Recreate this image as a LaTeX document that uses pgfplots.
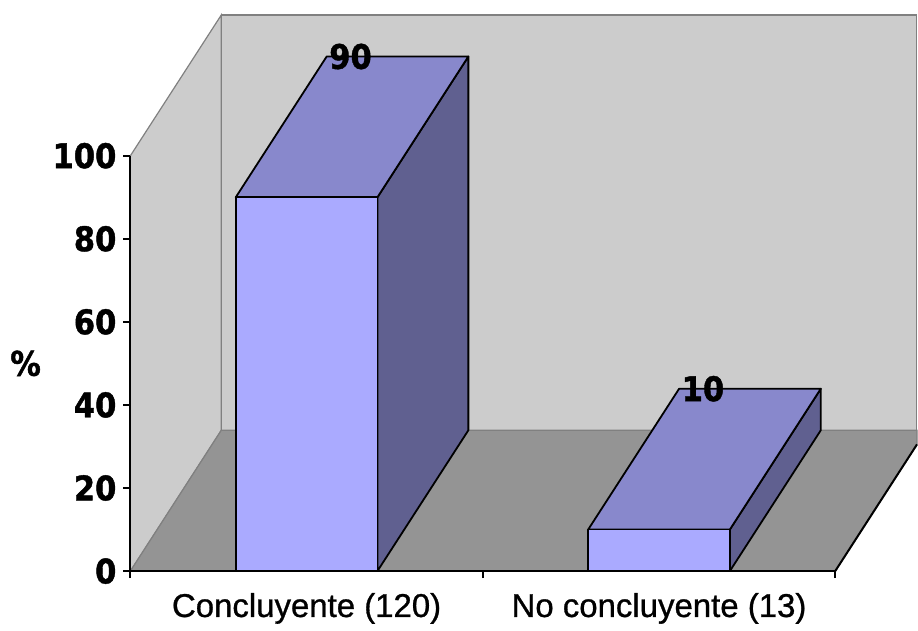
\documentclass[border=0pt]{standalone}
\usepackage{pgfplots}
\pgfplotsset{compat=1.18}
\usepackage{fontspec}
\setmainfont{Liberation Sans}
\newfontfamily\catfont{Liberation Sans}[FakeBold=0.9]
\newfontfamily\numfont{DejaVu Sans Condensed}[BoldFeatures={FakeBold=1.2}]

\definecolor{wallgray}{HTML}{CCCCCC}
\definecolor{floorgray}{HTML}{949494}
\definecolor{edgegray}{HTML}{808080}
\definecolor{barfront}{HTML}{AAAAFF}
\definecolor{bartop}{HTML}{8888CC}
\definecolor{barside}{HTML}{606090}

% depth of the 3D box (in axis units) and half width of a bar
\def\dx{0.258}
\def\dy{33.9}
\def\hw{0.201}

% one 3D bar: #1 = category position, #2 = value
\newcommand{\barthreed}[2]{%
  \pgfmathsetmacro\xl{#1-\hw}%
  \pgfmathsetmacro\xr{#1+\hw}%
  \pgfmathsetmacro\xlb{\xl+\dx}%
  \pgfmathsetmacro\xrb{\xr+\dx}%
  \pgfmathsetmacro\vt{#2+\dy}%
  \edef\tmp{%
    \noexpand\addplot[fill=barside,draw=black,line width=0.9pt,line join=round]
      coordinates {(\xr,0) (\xrb,\dy) (\xrb,\vt) (\xr,#2)} -- cycle;
    \noexpand\addplot[fill=bartop,draw=black,line width=0.9pt,line join=round]
      coordinates {(\xl,#2) (\xr,#2) (\xrb,\vt) (\xlb,\vt)} -- cycle;
    \noexpand\addplot[fill=barfront,draw=black,line width=0.9pt,line join=round]
      coordinates {(\xl,0) (\xr,0) (\xr,#2) (\xl,#2)} -- cycle;
  }\tmp}

\begin{document}
\begin{tikzpicture}
\begin{axis}[
  x=176.5pt, y=2.08pt,
  xmin=-0.5, xmax=1.5, ymin=0, ymax=100,
  clip=false,
  axis on top,
  axis lines*=left,
  axis line style={-, line width=1pt, black},
  tick align=outside,
  major tick length=3.5pt,
  tick style={line width=1pt, black},
  ytick={0,20,...,100},
  yticklabel style={font=\numfont\bfseries\fontsize{17}{17}\selectfont},
  /pgf/number format/assume math mode=true,
  xtick={-0.5,0.5,1.5},
  xticklabels={},
  extra x ticks={0,1},
  extra x tick labels={Concluyente (120), No concluyente (13)},
  extra x tick style={major tick length=0pt,
    xticklabel style={font=\catfont\fontsize{16.5}{16.5}\selectfont, yshift=-7.5pt}},
  ylabel={\%},
  ylabel style={at={(axis description cs:0,0.5)}, anchor=center, rotate=-90,
    xshift=-52.5pt, font=\numfont\bfseries\fontsize{17}{17}\selectfont},
]
% canvas size
\path (axis cs:-0.870,-12.5) rectangle (axis cs:1.731,137.5);
% back wall
\addplot[fill=wallgray, draw=edgegray, line width=0.6pt]
  coordinates {(-0.242,33.9) (1.731,33.9) (1.731,133.9) (-0.242,133.9)} -- cycle;
% left wall
\addplot[fill=wallgray, draw=edgegray, line width=0.6pt]
  coordinates {(-0.5,0) (-0.242,33.9) (-0.242,133.9) (-0.5,100)} -- cycle;
% floor
\addplot[fill=floorgray, draw=edgegray, line width=0.6pt]
  coordinates {(-0.5,0) (1.5,0) (1.732,30.5) (1.732,33.9) (-0.242,33.9)} -- cycle;
\addplot[black, line width=1pt] coordinates {(1.5,0) (1.732,30.5)};
% bars
\barthreed{0}{90}
\barthreed{1}{10}
% value labels on top of the bars
\addplot[draw=none, mark=none, nodes near coords,
  point meta=explicit symbolic,
  every node near coord/.style={anchor=center, xshift=22pt, yshift=70.5pt,
    font=\numfont\bfseries\fontsize{17}{17}\selectfont, text=black}]
  coordinates {(0,90) [90] (1,10) [10]};
\end{axis}
\end{tikzpicture}
\end{document}
